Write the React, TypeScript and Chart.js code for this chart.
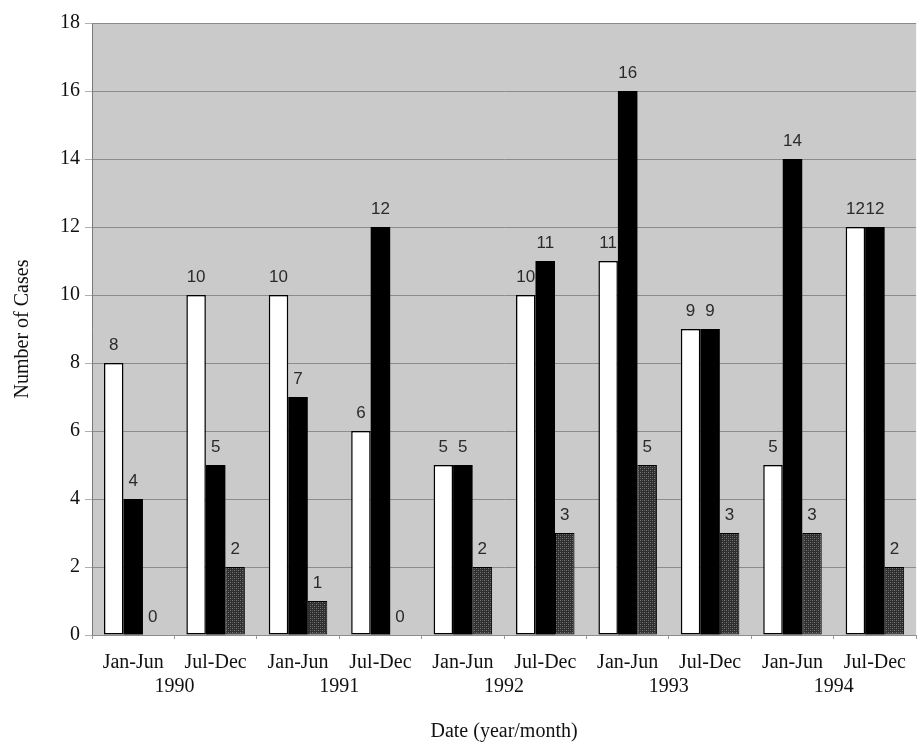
import React, { useEffect, useRef } from "react";
import { Chart, registerables } from "chart.js";

Chart.register(...registerables);

const periods = ["Jan-Jun", "Jul-Dec", "Jan-Jun", "Jul-Dec", "Jan-Jun", "Jul-Dec", "Jan-Jun", "Jul-Dec", "Jan-Jun", "Jul-Dec"];
const years = ["1990", "1991", "1992", "1993", "1994"];
const seriesWhite = [8, 10, 10, 6, 5, 10, 11, 9, 5, 12];
const seriesBlack = [4, 5, 7, 12, 5, 11, 16, 9, 14, 12];
const seriesHatched = [0, 2, 1, 0, 2, 3, 5, 3, 3, 2];
const yMin = 0;
const yMax = 18;
const yStep = 2;
const yTitle = "Number of Cases";
const xTitle = "Date (year/month)";

const SERIF = "'Liberation Serif', 'Times New Roman', serif";
const SANS = "'Liberation Sans', Arial, sans-serif";

function makePattern(): CanvasPattern | string {
  const c = document.createElement("canvas");
  c.width = 4;
  c.height = 4;
  const g = c.getContext("2d");
  if (!g) return "#3a3a3a";
  g.fillStyle = "#2e2e2e";
  g.fillRect(0, 0, 4, 4);
  g.fillStyle = "#7c7c7c";
  g.fillRect(0, 0, 1, 1);
  g.fillRect(2, 2, 1, 1);
  g.fillStyle = "#555555";
  g.fillRect(2, 0, 1, 1);
  g.fillRect(0, 2, 1, 1);
  const p = g.createPattern(c, "repeat");
  return p || "#3a3a3a";
}

const plotBg = {
  id: "plotBg",
  beforeDraw(chart: any) {
    const { ctx, chartArea } = chart;
    ctx.save();
    ctx.fillStyle = "#cacaca";
    ctx.fillRect(chartArea.left, chartArea.top, chartArea.right - chartArea.left, chartArea.bottom - chartArea.top);
    ctx.restore();
  },
  afterDatasetsDraw(chart: any) {
    const { ctx, chartArea } = chart;
    ctx.save();
    ctx.strokeStyle = "#8a8a8a";
    ctx.lineWidth = 1;
    ctx.beginPath();
    ctx.moveTo(chartArea.left, chartArea.top + 0.5);
    ctx.lineTo(chartArea.right, chartArea.top + 0.5);
    ctx.stroke();
    ctx.font = `17px ${SANS}`;
    ctx.fillStyle = "#2a2a2a";
    ctx.textAlign = "center";
    ctx.textBaseline = "alphabetic";
    chart.data.datasets.forEach((ds: any, i: number) => {
      const meta = chart.getDatasetMeta(i);
      meta.data.forEach((bar: any, j: number) => {
        ctx.fillText(String(ds.data[j]), bar.x, bar.y - 13);
      });
    });
    ctx.restore();
  },
  afterDraw(chart: any) {
    const { ctx, chartArea, scales } = chart;
    const xs = scales.x;
    ctx.save();
    ctx.fillStyle = "#111";
    ctx.font = `20px ${SERIF}`;
    ctx.textAlign = "center";
    ctx.textBaseline = "middle";
    years.forEach((yr, k) => {
      const a = xs.getPixelForValue(2 * k);
      const b = xs.getPixelForValue(2 * k + 1);
      ctx.fillText(yr, (a + b) / 2, chartArea.bottom + 52);
    });
    ctx.fillText(xTitle, (chartArea.left + chartArea.right) / 2, chartArea.bottom + 97);
    ctx.translate(23, (chartArea.top + chartArea.bottom) / 2);
    ctx.rotate(-Math.PI / 2);
    ctx.fillText(yTitle, 0, 0);
    ctx.restore();
  },
};

export default function App() {
  const ref = useRef<HTMLCanvasElement | null>(null);
  useEffect(() => {
    if (!ref.current) return;
    const chart = new Chart(ref.current, {
      type: "bar",
      data: {
        labels: periods,
        datasets: [
          { label: "A", data: seriesWhite, backgroundColor: "#ffffff", borderColor: "#000000", borderWidth: 1.5, borderSkipped: false as any },
          { label: "B", data: seriesBlack, backgroundColor: "#000000", borderColor: "#000000", borderWidth: 0 },
          { label: "C", data: seriesHatched, backgroundColor: makePattern() as any, borderColor: "#000000", borderWidth: 1, borderSkipped: false as any },
        ],
      },
      options: {
        responsive: false,
        animation: false,
        layout: { padding: { top: 23, right: 0, left: 0, bottom: 0 } },
        plugins: { legend: { display: false }, tooltip: { enabled: false }, title: { display: false } },
        datasets: { bar: { categoryPercentage: 0.71, barPercentage: 1 } },
        scales: {
          x: {
            offset: true,
            grid: { offset: true, drawOnChartArea: false, drawTicks: true, tickLength: 4, color: "#999" },
            border: { display: false },
            ticks: { font: { family: SERIF, size: 20 }, color: "#111", padding: 12, maxRotation: 0, autoSkip: false },
            afterFit: (s: any) => { s.height = 108; },
          },
          y: {
            min: yMin,
            max: yMax,
            ticks: { stepSize: yStep, font: { family: SERIF, size: 20 }, color: "#111", padding: 5 },
            grid: { color: "#8c8c8c", tickLength: 7, tickColor: "#b0b0b0" },
            border: { display: true, color: "#7a7a7a", width: 1 },
            afterFit: (s: any) => { s.width = 92; },
          },
        },
      },
      plugins: [plotBg],
    });
    return () => chart.destroy();
  }, []);
  return (
    <div style={{ position: "absolute", left: 0, top: 0, width: 918, height: 743, background: "#fff" }}>
      <canvas ref={ref} width={918} height={743} />
    </div>
  );
}
